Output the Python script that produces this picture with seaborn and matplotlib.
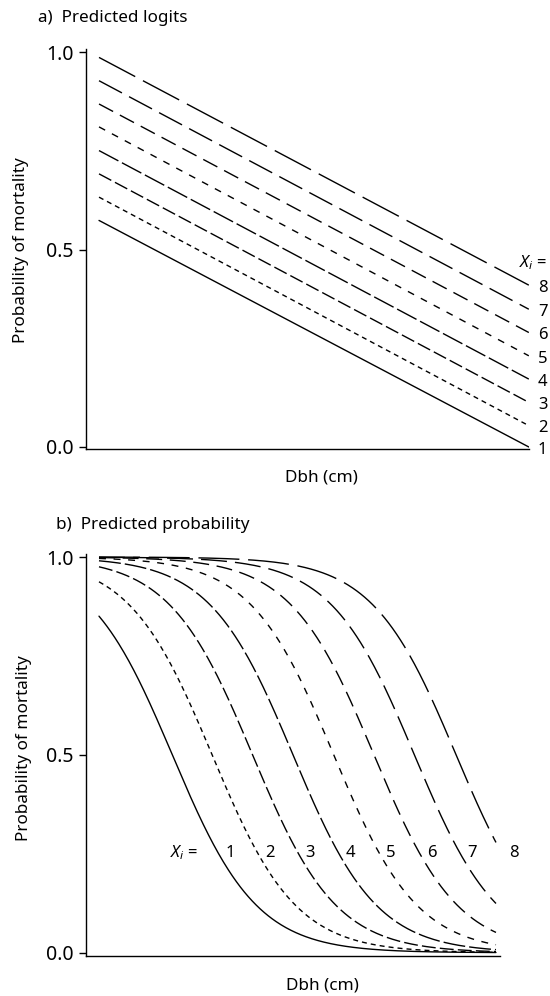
import numpy as np
import pandas as pd
import matplotlib
matplotlib.use("Agg")
import matplotlib.pyplot as plt
import seaborn as sns

# ---- data ---------------------------------------------------------------
groups = [1, 2, 3, 4, 5, 6, 7, 8]
dbh_span = [5.0, 100.0]                      # Dbh (cm) at the ends of each line
pred_start = [0.574, 0.633, 0.692, 0.751, 0.811, 0.869, 0.928, 0.987]
pred_end = [0.000, 0.054, 0.113, 0.172, 0.231, 0.290, 0.349, 0.410]
# linear predictor -> logit scale used for the probability panel
logit_scale = 16.4
logit_centre = 0.468
label_prob = 0.253                           # height of the X_i labels in panel b
y_ticks = [0.0, 0.5, 1.0]
y_ticklabels = ["0.0", "0.5", "1.0"]

dash_styles = {
    1: "",
    2: (3.6, 2.9),
    3: (10.0, 3.0),
    4: (15.8, 2.9),
    5: (5.0, 5.5),
    6: (11.5, 5.5),
    7: (18.7, 5.8),
    8: (29.5, 6.3),
}

# ---- tables ---------------------------------------------------------------
rows_a = []
for g, s, e in zip(groups, pred_start, pred_end):
    rows_a.append({"Xi": g, "dbh": dbh_span[0], "value": s})
    rows_a.append({"Xi": g, "dbh": dbh_span[1], "value": e})
df_a = pd.DataFrame(rows_a)

grid = np.linspace(dbh_span[0], dbh_span[1], 400)
rows_b = []
for g, s, e in zip(groups, pred_start, pred_end):
    lin = s + (e - s) * (grid - dbh_span[0]) / (dbh_span[1] - dbh_span[0])
    prob = 1.0 / (1.0 + np.exp(-logit_scale * (lin - logit_centre)))
    rows_b.append(pd.DataFrame({"Xi": g, "dbh": grid, "value": prob}))
df_b = pd.concat(rows_b, ignore_index=True)

# ---- style ----------------------------------------------------------------
sns.set_theme(style="white")
plt.rcParams["font.family"] = ["Noto Sans", "DejaVu Sans"]
plt.rcParams["mathtext.fontset"] = "custom"
plt.rcParams["mathtext.it"] = "Noto Sans:italic"
plt.rcParams["mathtext.rm"] = "Noto Sans"
plt.rcParams["axes.linewidth"] = 1.0
plt.rcParams["lines.scale_dashes"] = True
plt.rcParams["text.color"] = "black"
plt.rcParams["axes.labelcolor"] = "black"

TXT = 12.3      # titles and axis labels
NUM = 12.0      # X_i labels
TICK = 14.0     # y tick labels

W, H = 550, 996
fig = plt.figure(figsize=(W / 100, H / 100), dpi=100)


def px_axes(left, top, right, bottom):
    return fig.add_axes([left / W, 1 - bottom / H, (right - left) / W, (bottom - top) / H])


ax_a = px_axes(86.3, 48.7, 529.0, 449.0)
ax_b = px_axes(86.0, 554.0, 500.0, 955.7)

for ax, df in ((ax_a, df_a), (ax_b, df_b)):
    sns.lineplot(data=df, x="dbh", y="value", style="Xi", dashes=dash_styles,
                 color="black", linewidth=1.0, estimator=None, legend=False,
                 ax=ax)
    sns.despine(ax=ax)
    ax.set_yticks(y_ticks)
    ax.set_yticklabels(y_ticklabels)
    ax.set_xticks([])
    ax.tick_params(axis="y", direction="out", length=5, width=1.0, pad=4,
                   labelsize=TICK, left=True, colors="black")
    ax.spines["left"].set_color("black")
    ax.spines["bottom"].set_color("black")
    ax.set_ylabel("Probability of mortality", fontsize=TXT)
    ax.set_xlabel("Dbh (cm)", fontsize=TXT)
    ax.xaxis.label.set_va("center")
    ax.yaxis.label.set_va("center")

ax_a.set_xlim(2.19, 100.04)
ax_a.set_ylim(-0.0051, 1.0091)
ax_b.set_xlim(1.89, 100.96)
ax_b.set_ylim(-0.0076, 1.0076)

ax_a.xaxis.set_label_coords(0.532, -0.072)
ax_a.yaxis.set_label_coords(-0.1475, 0.497)
ax_b.xaxis.set_label_coords(0.570, -0.073)
ax_b.yaxis.set_label_coords(-0.1486, 0.517)

# ---- line labels, panel a ---------------------------------------------------
for g, e in zip(groups, pred_end):
    ax_a.annotate(str(g), xy=(dbh_span[1], e), xytext=(10, -2),
                  textcoords="offset points", ha="center", va="center",
                  fontsize=NUM, annotation_clip=False)
ax_a.annotate(r"$X_i$ =", xy=(dbh_span[1], pred_end[-1]), xytext=(2.7, 16.5),
              textcoords="offset points", ha="center", va="center",
              fontsize=NUM, annotation_clip=False)

# ---- curve labels, panel b --------------------------------------------------
lin_target = logit_centre + np.log(label_prob / (1 - label_prob)) / logit_scale
cross = []
for s, e in zip(pred_start, pred_end):
    cross.append(dbh_span[0] + (dbh_span[1] - dbh_span[0]) * (lin_target - s) / (e - s))
for g, c in zip(groups, cross):
    ax_b.annotate(str(g), xy=(c, label_prob), xytext=(8.8, 0),
                  textcoords="offset points", ha="center", va="center",
                  fontsize=NUM, annotation_clip=False)
ax_b.annotate(r"$X_i$ =", xy=(cross[0], label_prob), xytext=(-24.5, 0),
              textcoords="offset points", ha="center", va="center",
              fontsize=NUM, annotation_clip=False)

# ---- panel titles -----------------------------------------------------------
fig.text(38 / W, 1 - 18 / H, "a)  Predicted logits", ha="left", va="center", fontsize=TXT)
fig.text(56 / W, 1 - 525 / H, "b)  Predicted probability", ha="left", va="center", fontsize=TXT)

fig.savefig("out.png", dpi=100, facecolor="white")
